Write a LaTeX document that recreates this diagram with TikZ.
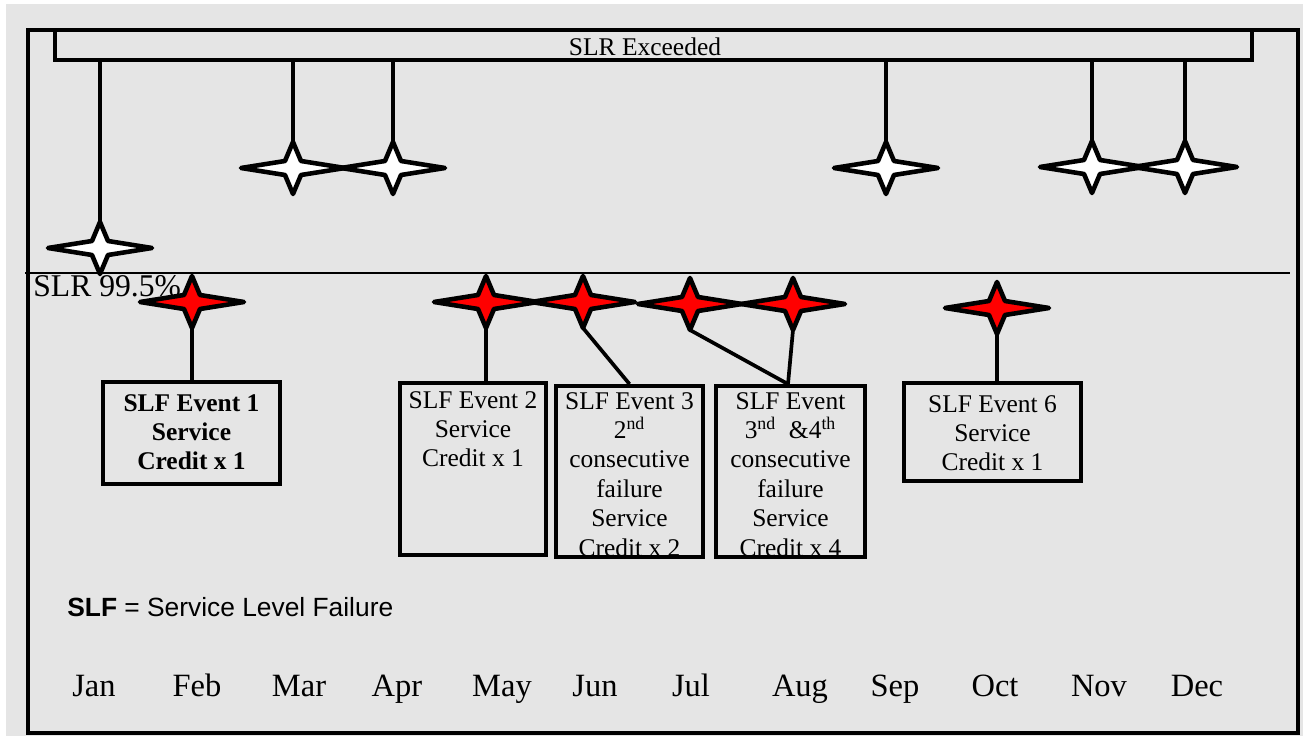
\documentclass[tikz,border=0pt]{standalone}
\usepackage{fontspec}
\setmainfont{Liberation Serif}
\setsansfont{Liberation Sans}
\usetikzlibrary{positioning}
\definecolor{slrgrey}{HTML}{E5E5E5}
\definecolor{slfred}{HTML}{FF0000}

\tikzset{
  sparkle/.pic={
    \path[pic actions] (-52,0) -- (-8,-7) -- (0,-26) -- (8,-7) -- (52,0) -- (8,7) -- (0,26) -- (-8,7) -- cycle;
    \coordinate (-top) at (0,-26);
    \coordinate (-bot) at (0,26);
  }
}

\begin{document}
\begin{tikzpicture}[
  x=0.02cm,y=-0.02cm,
  frame/.style={line width=2pt},
  exceeded/.style={draw,line width=2pt,minimum width=23.94cm,minimum height=0.6cm,inner sep=0pt},
  okstar/.style={draw,fill=white,line width=2.6pt,line join=round},
  failstar/.style={draw,fill=slfred,line width=2.6pt,line join=round},
  event/.style={draw,line width=2.2pt,inner sep=0pt},
  eventtext/.style={align=center,inner sep=0pt,font=\fontsize{14.5}{16.7}\selectfont},
  month/.style={anchor=base,inner sep=0pt,font=\fontsize{18.5}{21}\selectfont},
  link/.style={line width=2.1pt}
]
  \useasboundingbox (0,0) rectangle (1303,736);
  \fill[white] (0,0) rectangle (1303,736);
  \fill[slrgrey] (6,4) rectangle (1303,736);
  \draw[frame] (28,30) rectangle (1298,733);

  % threshold
  \node[exceeded] (bar) at (653.5,45) {};
  \node[anchor=base,inner sep=0pt,font=\fontsize{14.5}{17}\selectfont] (bartxt) at (645,56) {SLR Exceeded};
  \draw[line width=1.5pt] (25,273) -- (1290,273);
  \node[anchor=base west,inner sep=0pt,font=\fontsize{18}{21}\selectfont] (slr) at (33,297) {SLR 99.5\%};

  % months above the SLR
  \pic[okstar] (jan) at (100,248) {sparkle};
  \pic[okstar] (mar) at (293,168) {sparkle};
  \pic[okstar] (apr) at (393,168) {sparkle};
  \pic[okstar] (sep) at (886,168) {sparkle};
  \pic[okstar] (nov) at (1092,167) {sparkle};
  \pic[okstar] (dec) at (1185,167) {sparkle};

  \draw[link] (bar.south -| jan-top) -- (jan-top);
  \draw[link] (bar.south -| mar-top) -- (mar-top);
  \draw[link] (bar.south -| apr-top) -- (apr-top);
  \draw[link] (bar.south -| sep-top) -- (sep-top);
  \draw[link] (bar.south -| nov-top) -- (nov-top);
  \draw[link] (bar.south -| dec-top) -- (dec-top);

  % months below the SLR
  \pic[failstar] (feb) at (192,302) {sparkle};
  \pic[failstar] (may) at (486,302) {sparkle};
  \pic[failstar] (jun) at (583,302) {sparkle};
  \pic[failstar] (jul) at (690,304) {sparkle};
  \pic[failstar] (aug) at (793,304) {sparkle};
  \pic[failstar] (oct) at (997,308) {sparkle};

  \node[event,minimum width=3.54cm,minimum height=2.04cm] (ev1) at (191.5,433) {};
  \node[event,minimum width=2.92cm,minimum height=3.44cm] (ev2) at (473,469) {};
  \node[event,minimum width=2.94cm,minimum height=3.42cm] (ev3) at (629.5,471.5) {};
  \node[event,minimum width=2.98cm,minimum height=3.42cm] (ev4) at (790.5,471.5) {};
  \node[event,minimum width=3.54cm,minimum height=1.96cm] (ev6) at (992.5,432) {};

  \node[eventtext,below=0.28cm of ev1.north] (ev1txt) {\bfseries SLF Event 1\\\bfseries Service\\\bfseries Credit x 1};
  \node[eventtext,below=0.2cm of ev2.north] (ev2txt) {SLF Event 2\\Service\\Credit x 1};
  \node[eventtext,below=0.16cm of ev3.north] (ev3txt) {SLF Event 3\\2\textsuperscript{nd}\\consecutive\\failure\\Service\\Credit x 2};
  \node[eventtext,below=0.16cm of ev4.north] (ev4txt) {SLF Event\\3\textsuperscript{nd} \ \&4\textsuperscript{th}\\consecutive\\failure\\Service\\Credit x 4};
  \node[eventtext,below=0.28cm of ev6.north] (ev6txt) {SLF Event 6\\Service\\Credit x 1};

  \draw[link] (feb-bot) -- (feb-bot |- ev1.north);
  \draw[link] (may-bot) -- (may-bot |- ev2.north);
  \draw[link] (jun-bot) -- (ev3.north);
  \draw[link] (jul-bot) -- ([xshift=-0.05cm]ev4.north);
  \draw[link] (aug-bot) -- ([xshift=-0.05cm]ev4.north);
  \draw[link] (oct-bot) -- (oct-bot |- ev6.north);

  \node[anchor=base west,inner sep=0pt,font=\sffamily\fontsize{15}{18}\selectfont] (legend) at (67,617) {\textbf{SLF} = Service Level Failure};

  \node[month] (m1) at (94,697) {Jan};
  \node[month] (m2) at (197,697) {Feb};
  \node[month] (m3) at (299,697) {Mar};
  \node[month] (m4) at (397,697) {Apr};
  \node[month] (m5) at (502,697) {May};
  \node[month] (m6) at (595,697) {Jun};
  \node[month] (m7) at (691,697) {Jul};
  \node[month] (m8) at (800,697) {Aug};
  \node[month] (m9) at (895,697) {Sep};
  \node[month] (m10) at (995,697) {Oct};
  \node[month] (m11) at (1099,697) {Nov};
  \node[month] (m12) at (1197,697) {Dec};
\end{tikzpicture}
\end{document}
